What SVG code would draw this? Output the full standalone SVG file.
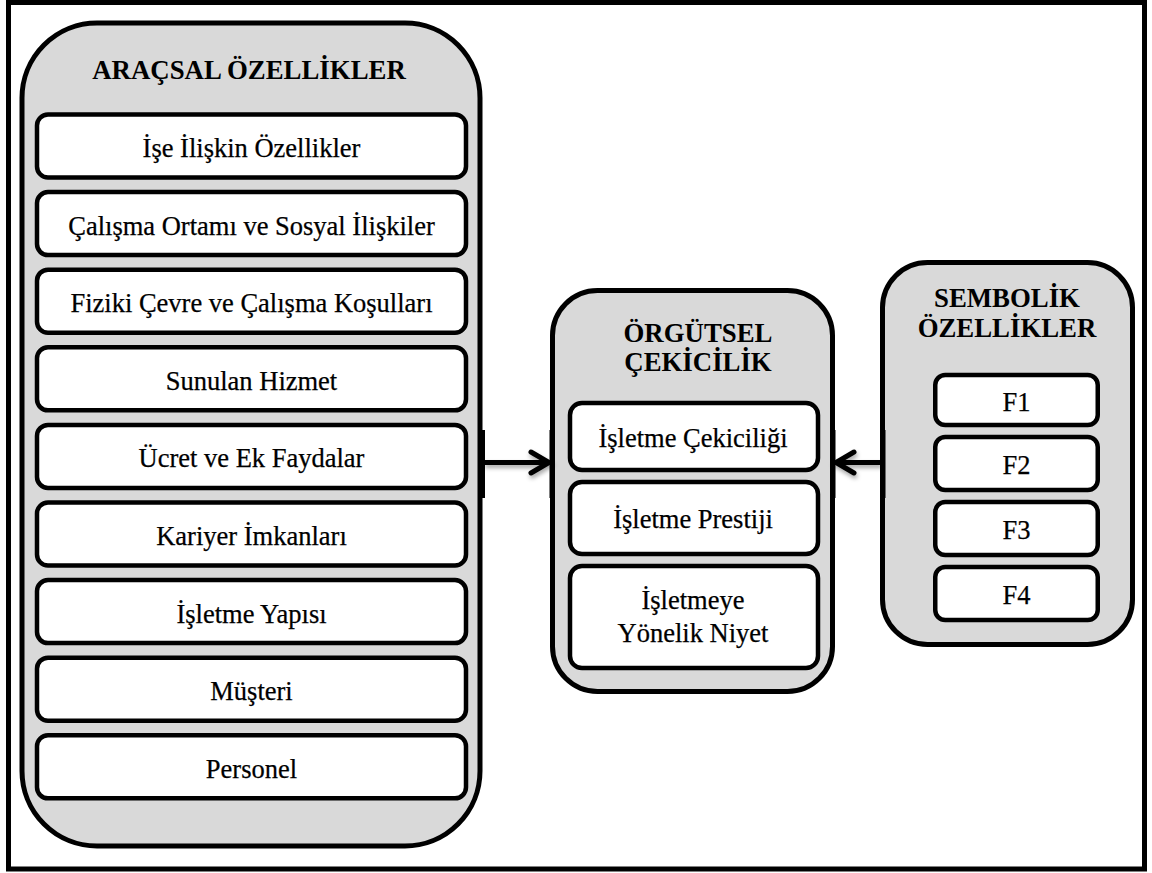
<svg xmlns="http://www.w3.org/2000/svg" width="1152" height="873" viewBox="0 0 1152 873">
  <defs>
    <style>
      .frame { fill: #ffffff; stroke: #000000; stroke-width: 5; }
      .group { fill: #d9d9d9; stroke: #000000; stroke-width: 5; }
      .item { fill: #ffffff; stroke: #000000; stroke-width: 4.5; }
      .title { font-family: 'Liberation Serif', 'Times New Roman', serif; font-weight: bold; font-size: 26.8px; fill: #000000; text-anchor: middle; }
      .label { font-family: 'Liberation Serif', 'Times New Roman', serif; font-size: 26.5px; fill: #000000; stroke: #000000; stroke-width: 0.25; text-anchor: middle; }
      .wire { fill: none; stroke: #000000; stroke-width: 5; stroke-linecap: butt; }
      .head { fill: none; stroke: #000000; stroke-width: 5; stroke-linecap: round; stroke-linejoin: miter; }
      .cap { fill: #000000; }
    </style>
    <filter id="shadow" x="-20%" y="-50%" width="140%" height="200%">
      <feDropShadow dx="1" dy="3" stdDeviation="2" flood-color="#000000" flood-opacity="0.35"/>
    </filter>
  </defs>

  <!-- outer frame -->
  <rect class="frame" x="8.5" y="2.5" width="1136" height="866.5"/>

  <!-- instrumental attributes -->
  <g id="aracsal">
    <rect class="group" x="22" y="23" width="458" height="823" rx="75" ry="75"/>
    <text class="title" x="249" y="79">ARAÇSAL ÖZELLİKLER</text>
  </g>
  <g id="a1"><rect class="item" x="37" y="114.5" width="429" height="63" rx="11"/><text class="label" x="251.5" y="157">İşe İlişkin Özellikler</text></g>
  <g id="a2"><rect class="item" x="37" y="192.1" width="429" height="63" rx="11"/><text class="label" x="251.5" y="234.6">Çalışma Ortamı ve Sosyal İlişkiler</text></g>
  <g id="a3"><rect class="item" x="37" y="269.7" width="429" height="63" rx="11"/><text class="label" x="251.5" y="312.2">Fiziki Çevre ve Çalışma Koşulları</text></g>
  <g id="a4"><rect class="item" x="37" y="347.3" width="429" height="63" rx="11"/><text class="label" x="251.5" y="389.8">Sunulan Hizmet</text></g>
  <g id="a5"><rect class="item" x="37" y="424.9" width="429" height="63" rx="11"/><text class="label" x="251.5" y="467.4">Ücret ve Ek Faydalar</text></g>
  <g id="a6"><rect class="item" x="37" y="502.5" width="429" height="63" rx="11"/><text class="label" x="251.5" y="545">Kariyer İmkanları</text></g>
  <g id="a7"><rect class="item" x="37" y="580.1" width="429" height="63" rx="11"/><text class="label" x="251.5" y="622.6">İşletme Yapısı</text></g>
  <g id="a8"><rect class="item" x="37" y="657.7" width="429" height="63" rx="11"/><text class="label" x="251.5" y="700.2">Müşteri</text></g>
  <g id="a9"><rect class="item" x="37" y="735.3" width="429" height="63" rx="11"/><text class="label" x="251.5" y="777.8">Personel</text></g>

  <!-- organisational attractiveness -->
  <g id="orgutsel">
    <rect class="group" x="552.5" y="290.5" width="280" height="401" rx="45" ry="45"/>
    <text class="title" x="698" y="342">ÖRGÜTSEL</text>
    <text class="title" x="698" y="371">ÇEKİCİLİK</text>
  </g>
  <g id="o1"><rect class="item" x="570" y="403" width="248" height="67" rx="12"/><text class="label" x="693" y="446.5">İşletme Çekiciliği</text></g>
  <g id="o2"><rect class="item" x="570" y="482" width="248" height="72" rx="12"/><text class="label" x="693" y="528">İşletme Prestiji</text></g>
  <g id="o3"><rect class="item" x="570" y="566" width="248" height="102" rx="12"/><text class="label" x="693" y="609">İşletmeye</text><text class="label" x="693" y="641.5">Yönelik Niyet</text></g>

  <!-- symbolic attributes -->
  <g id="sembolik">
    <rect class="group" x="882.5" y="262.5" width="250" height="382" rx="45" ry="45"/>
    <text class="title" x="1007" y="307">SEMBOLİK</text>
    <text class="title" x="1007" y="337">ÖZELLİKLER</text>
  </g>
  <g id="f1"><rect class="item" x="935.25" y="375" width="162.5" height="50" rx="10"/><text class="label" x="1016.5" y="411">F1</text></g>
  <g id="f2"><rect class="item" x="935.25" y="437" width="162.5" height="53" rx="10"/><text class="label" x="1016.5" y="474">F2</text></g>
  <g id="f3"><rect class="item" x="935.25" y="502" width="162.5" height="53" rx="10"/><text class="label" x="1016.5" y="539">F3</text></g>
  <g id="f4"><rect class="item" x="935.25" y="567" width="162.5" height="53" rx="10"/><text class="label" x="1016.5" y="604">F4</text></g>

  <!-- connectors -->
  <g id="connectors">
    <rect class="cap" x="479.5" y="430" width="5.5" height="68"/>
    <rect class="cap" x="549.5" y="430" width="5.5" height="68"/>
    <rect class="cap" x="830" y="430" width="5.5" height="68"/>
    <rect class="cap" x="880" y="430" width="5.5" height="68"/>
    <g filter="url(#shadow)">
      <line class="wire" x1="484" y1="462.5" x2="549" y2="462.5"/>
      <polyline class="head" points="531,452 549,462.5 531,473"/>
      <line class="wire" x1="881" y1="462.5" x2="836" y2="462.5"/>
      <polyline class="head" points="854,452 836,462.5 854,473"/>
    </g>
  </g>
</svg>
